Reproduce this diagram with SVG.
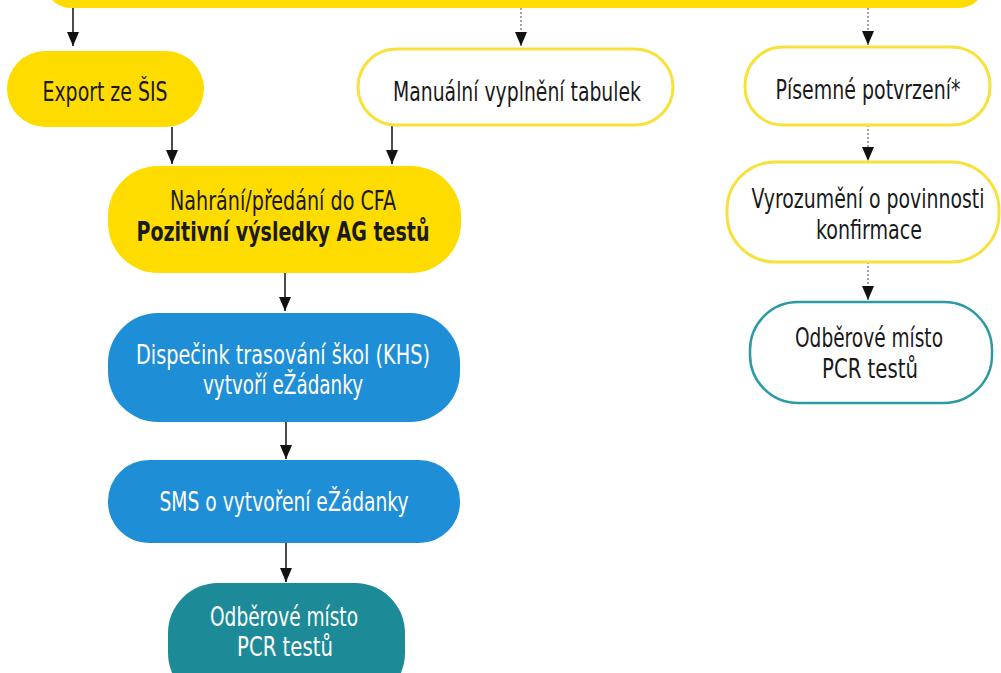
<svg xmlns="http://www.w3.org/2000/svg" width="1001" height="673" viewBox="0 0 1001 673">
<defs>
<marker id="ah" markerWidth="14" markerHeight="12" refX="14" refY="6" orient="auto" markerUnits="userSpaceOnUse" viewBox="0 0 14 12">
<path d="M0,0 L14,6 L0,12 Z" fill="#111"/>
</marker>
<style>
text{font-family:"DejaVu Sans Condensed","Liberation Sans Narrow","Liberation Sans",sans-serif;font-size:26px;text-anchor:middle;fill:#1a1a1a}
.w{fill:#ffffff}
.b{font-weight:bold}
.yf{fill:#ffdc00}
.yo{fill:#ffffff;stroke:#f7e13a;stroke-width:3}
.bl{fill:#1e8ed6}
.tf{fill:#1c8b97}
.to{fill:#ffffff;stroke:#2b9aa5;stroke-width:2.5}
.c{stroke:#111;stroke-width:1.5;fill:none}
.d{stroke:#888;stroke-width:1.5;stroke-dasharray:2 2;fill:none}
</style>
</defs>
<rect width="1001" height="673" fill="#ffffff"/>
<g id="top"><rect class="yf" x="45" y="-50" width="940" height="58" rx="26"/></g>
<g id="connectors">
<line class="c" x1="73" y1="8" x2="73" y2="46" marker-end="url(#ah)"/>
<line class="d" x1="521" y1="8" x2="521" y2="46" marker-end="url(#ah)"/>
<line class="d" x1="868" y1="8" x2="868" y2="45" marker-end="url(#ah)"/>
<line class="c" x1="172" y1="127" x2="172" y2="164" marker-end="url(#ah)"/>
<line class="c" x1="392" y1="125" x2="392" y2="164" marker-end="url(#ah)"/>
<line class="d" x1="868" y1="125" x2="868" y2="161" marker-end="url(#ah)"/>
<line class="c" x1="285" y1="273" x2="285" y2="311" marker-end="url(#ah)"/>
<line class="c" x1="286" y1="422" x2="286" y2="459" marker-end="url(#ah)"/>
<line class="c" x1="286" y1="543" x2="286" y2="582" marker-end="url(#ah)"/>
<line class="d" x1="868" y1="262" x2="868" y2="300" marker-end="url(#ah)"/>
</g>
<g id="export"><rect class="yf" x="7" y="51" width="197" height="76" rx="38"/>
<text x="105" y="101" textLength="125" lengthAdjust="spacingAndGlyphs">Export ze ŠIS</text></g>
<g id="manual"><rect class="yo" x="358" y="49" width="315" height="76" rx="38"/>
<text x="517" y="101" textLength="248" lengthAdjust="spacingAndGlyphs">Manuální vyplnění tabulek</text></g>
<g id="pisemne"><rect class="yo" x="745" y="47" width="245" height="78" rx="38"/>
<text x="868" y="99" textLength="185" lengthAdjust="spacingAndGlyphs">Písemné potvrzení*</text></g>
<g id="nahrani"><rect class="yf" x="108" y="166" width="353" height="107" rx="50"/>
<text x="283" y="210" textLength="226" lengthAdjust="spacingAndGlyphs">Nahrání/předání do CFA</text>
<text class="b" x="283" y="241" textLength="293" lengthAdjust="spacingAndGlyphs">Pozitivní výsledky AG testů</text></g>
<g id="dispecink"><rect class="bl" x="108" y="313" width="352" height="109" rx="50"/>
<text class="w" x="283" y="364" textLength="294" lengthAdjust="spacingAndGlyphs">Dispečink trasování škol (KHS)</text>
<text class="w" x="283" y="394" textLength="160" lengthAdjust="spacingAndGlyphs">vytvoří eŽádanky</text></g>
<g id="sms"><rect class="bl" x="108" y="460" width="352" height="83" rx="41"/>
<text class="w" x="284" y="511" textLength="249" lengthAdjust="spacingAndGlyphs">SMS o vytvoření eŽádanky</text></g>
<g id="odber1"><rect class="tf" x="168" y="583" width="237" height="120" rx="50"/>
<text class="w" x="284" y="626" textLength="148" lengthAdjust="spacingAndGlyphs">Odběrové místo</text>
<text class="w" x="285" y="656" textLength="96" lengthAdjust="spacingAndGlyphs">PCR testů</text></g>
<g id="vyrozumeni"><rect class="yo" x="727" y="162" width="272" height="100" rx="48"/>
<text x="868" y="208" textLength="233" lengthAdjust="spacingAndGlyphs">Vyrozumění o povinnosti</text>
<text x="869" y="239" textLength="106" lengthAdjust="spacingAndGlyphs">konfirmace</text></g>
<g id="odber2"><rect class="to" x="750" y="302" width="242" height="101" rx="48"/>
<text x="869" y="347" textLength="148" lengthAdjust="spacingAndGlyphs">Odběrové místo</text>
<text x="870" y="378" textLength="96" lengthAdjust="spacingAndGlyphs">PCR testů</text></g>
</svg>
